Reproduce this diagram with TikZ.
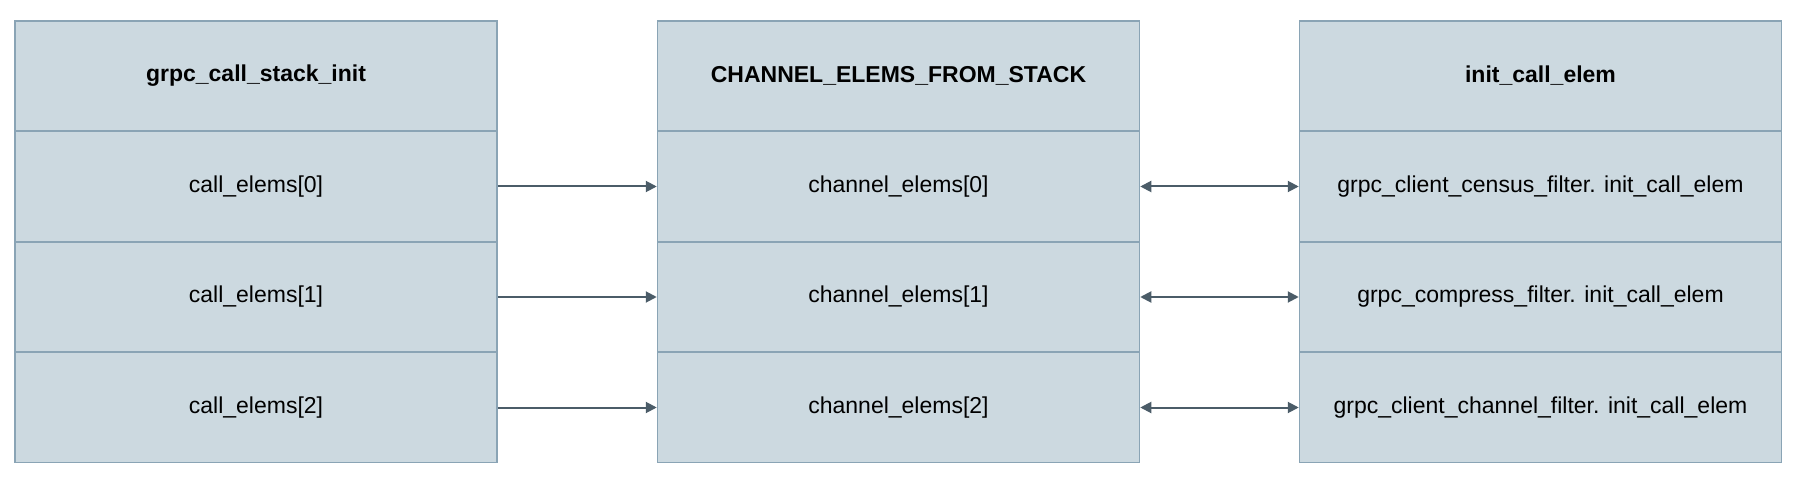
\documentclass[tikz,border=0pt]{standalone}
\usepackage{fontspec}
\setmainfont{Liberation Sans}
\usetikzlibrary{arrows.meta}
\definecolor{cellfill}{HTML}{CCD9E0}
\definecolor{cellline}{HTML}{8AA4B5}
\definecolor{arrowc}{HTML}{4B5C68}
\begin{document}
\begin{tikzpicture}[x=1pt,y=-1pt,
  cell/.style={draw=cellline,fill=cellfill,line width=1.5pt,minimum width=482pt,minimum height=110pt,inner sep=0pt,font=\fontsize{23}{26}\selectfont,text=black},
  head/.style={cell,font=\fontsize{23}{26}\selectfont\bfseries},
  conn/.style={draw=arrowc,line width=2pt,-{Triangle[length=11pt,width=11pt]}},
  dconn/.style={draw=arrowc,line width=2pt,{Triangle[length=11pt,width=11pt]}-{Triangle[length=11pt,width=11pt]}}]
\useasboundingbox (0,0) rectangle (1800,481);
% left column
\node[head] (L0) at (256,76) {grpc\_call\_stack\_init};
\node[cell] (L1) at (256,186.5) {call\_elems[0]};
\node[cell] (L2) at (256,297) {call\_elems[1]};
\node[cell] (L3) at (256,407.5) {call\_elems[2]};
% middle column
\node[head] (M0) at (898.5,76) {CHANNEL\_ELEMS\_FROM\_STACK};
\node[cell] (M1) at (898.5,186.5) {channel\_elems[0]};
\node[cell] (M2) at (898.5,297) {channel\_elems[1]};
\node[cell] (M3) at (898.5,407.5) {channel\_elems[2]};
% right column
\node[head] (R0) at (1540.5,76) {init\_call\_elem};
\node[cell] (R1) at (1540.5,186.5) {grpc\_client\_census\_filter. init\_call\_elem};
\node[cell] (R2) at (1540.5,297) {grpc\_compress\_filter. init\_call\_elem};
\node[cell] (R3) at (1540.5,407.5) {grpc\_client\_channel\_filter. init\_call\_elem};
% connectors
\draw[conn] (L1.east) -- (M1.west);
\draw[conn] (L2.east) -- (M2.west);
\draw[conn] (L3.east) -- (M3.west);
\draw[dconn] (M1.east) -- (R1.west);
\draw[dconn] (M2.east) -- (R2.west);
\draw[dconn] (M3.east) -- (R3.west);
\end{tikzpicture}
\end{document}
